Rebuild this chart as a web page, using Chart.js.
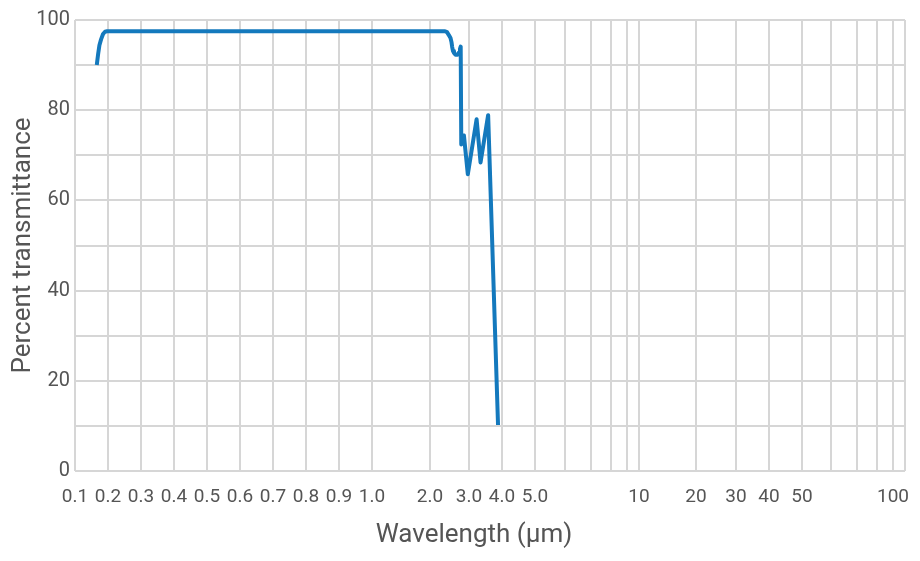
<!DOCTYPE html>
<html>
<head>
<meta charset="utf-8">
<script src="https://cdn.jsdelivr.net/npm/chart.js@4.4.1/dist/chart.umd.min.js"></script>
<style>
  html, body { margin: 0; padding: 0; background: #fff; }
  #wrap { width: 920px; height: 561px; }
</style>
</head>
<body>
<div id="wrap"><canvas id="myChart"></canvas></div>
<script>
// Transmittance curve
const wavelengths = [0.166, 0.170, 0.174, 0.179, 0.185, 0.191, 0.197, 0.2, 1.0, 2.0, 2.385, 2.436, 2.487, 2.526, 2.551, 2.569, 2.59, 2.615, 2.654, 2.705, 2.744, 2.769, 2.787, 2.802, 2.87, 2.97, 3.23, 3.35, 3.58, 3.88];
const transmittance = [90, 92.4, 94.4, 95.7, 96.9, 97.4, 97.5, 97.5, 97.5, 97.5, 97.5, 97.3, 96.6, 96.0, 95.1, 94.0, 93.1, 92.7, 92.3, 92.3, 92.8, 93.6, 94.1, 72.4, 74.4, 65.8, 78, 68.4, 78.9, 10.2];

// The x axis is hand-warped: wavelength stops and where each sits along the axis
const tickWavelengths = [0.1, 0.2, 0.3, 0.4, 0.5, 0.6, 0.7, 0.8, 0.9, 1.0, 2, 3, 4, 5, 6, 7, 8, 9, 10, 20, 30, 40, 50, 60, 70, 80, 100];
const tickLabels = ['0.1', '0.2', '0.3', '0.4', '0.5', '0.6', '0.7', '0.8', '0.9', '1.0', '2.0', '3.0', '4.0', '5.0', '', '', '', '', '10', '20', '30', '40', '50', '', '', '', '100'];
const axisStops = [0, 33, 66, 99, 132, 165, 198, 231, 264, 297, 355, 394, 427, 460, 490, 516, 536, 552, 564, 621, 661, 694, 727, 756, 782, 802, 818];
const axisEnd = 830;

// piecewise map from wavelength to axis position
function warp(w) {
    for (let i = 0; i < tickWavelengths.length - 1; i++) {
        const a = tickWavelengths[i], b = tickWavelengths[i + 1];
        if (w >= a && w <= b) {
            return axisStops[i] + (w - a) / (b - a) * (axisStops[i + 1] - axisStops[i]);
        }
    }
    return axisStops[axisStops.length - 1];
}

const points = wavelengths.map((w, i) => ({ x: warp(w), y: transmittance[i] }));

const font = "Roboto, 'Liberation Sans', sans-serif";
const textColor = '#555555';
const gridColor = '#d6d6d6';

// x title sits a little left of the plot centre in the original
const xTitlePlugin = {
    id: 'xTitle',
    afterDraw(chart) {
        const c = chart.ctx;
        c.save();
        c.font = '26px ' + font;
        c.fillStyle = textColor;
        c.textAlign = 'center';
        c.textBaseline = 'middle';
        c.fillText('Wavelength (µm)', 474, 535);
        c.restore();
    }
};

const ctx = document.getElementById('myChart').getContext('2d');
new Chart(ctx, {
    type: 'line',
    data: {
        datasets: [{
            data: points,
            borderColor: '#1479bd',
            borderWidth: 4,
            borderJoinStyle: 'round',
            borderCapStyle: 'butt',
            pointRadius: 0,
            tension: 0,
            fill: false
        }]
    },
    plugins: [xTitlePlugin],
    options: {
        responsive: true,
        maintainAspectRatio: false,
        animation: false,
        layout: { padding: { left: 0, right: 15, top: 20, bottom: 0 } },
        plugins: { legend: { display: false }, tooltip: { enabled: false } },
        scales: {
            x: {
                type: 'linear',
                min: 0,
                max: axisEnd,
                afterBuildTicks: scale => {
                    scale.ticks = axisStops.concat([axisEnd]).map(v => ({ value: v }));
                },
                afterFit: scale => { scale.height = 90; },
                grid: { color: gridColor, lineWidth: 2, drawTicks: false },
                border: { display: false },
                ticks: {
                    autoSkip: false,
                    maxRotation: 0,
                    padding: 15,
                    color: textColor,
                    font: { family: font, size: 19 },
                    callback: (v, i) => (i < tickLabels.length ? tickLabels[i] : '')
                },
                title: { display: false }
            },
            y: {
                min: 0,
                max: 100,
                afterFit: scale => { scale.width = 75; },
                grid: { color: gridColor, lineWidth: 2, drawTicks: false },
                border: { display: false },
                ticks: {
                    stepSize: 10,
                    padding: 5,
                    color: textColor,
                    font: { family: font, size: 20 },
                    callback: v => (v % 20 === 0 ? v : '')
                },
                title: {
                    display: true,
                    text: 'Percent transmittance',
                    color: textColor,
                    font: { family: font, size: 26 },
                    padding: { top: 8, bottom: 0 }
                }
            }
        }
    }
});
</script>
</body>
</html>
